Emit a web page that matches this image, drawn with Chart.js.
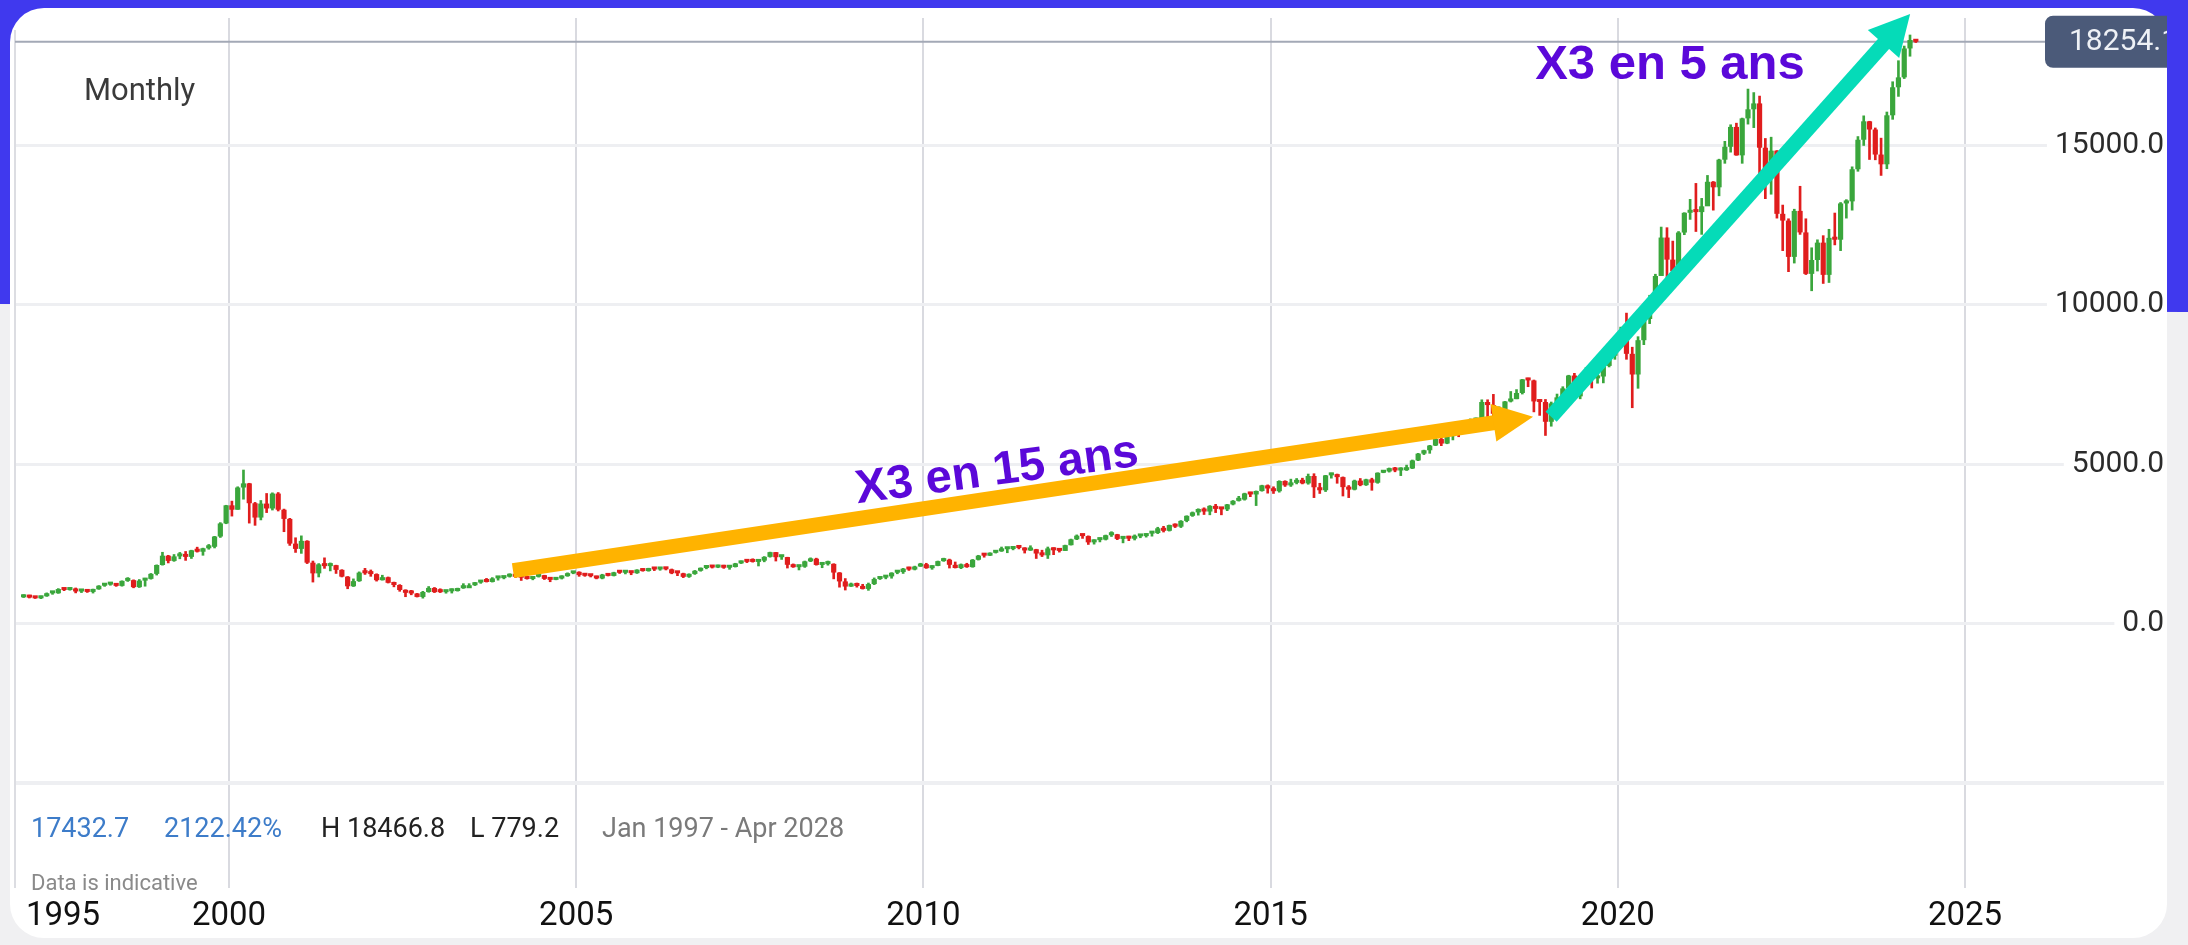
<!DOCTYPE html>
<html>
<head>
<meta charset="utf-8">
<title>Monthly</title>
<script src="https://cdn.jsdelivr.net/npm/chart.js@4.4.1/dist/chart.umd.min.js"></script>
<style>
  html, body { margin: 0; padding: 0; }
  body { width: 2188px; height: 945px; overflow: hidden; background: #f0f0f2; position: relative; }
  #band { position: absolute; left: 0; top: 0; width: 2188px; height: 312px; background: #4039ee;
          clip-path: polygon(0 0, 100% 0, 100% 312px, 0 304px); }
  #card { position: absolute; left: 10px; top: 8px; width: 2157px; height: 930px; background: #fff; border-radius: 34px; }
  #chart { position: absolute; left: 0; top: 0; }
</style>
</head>
<body>
<div id="band"></div>
<div id="card"></div>
<canvas id="chart" width="2188" height="945"></canvas>
<script>
// monthly candles, Jan 1997 .. Apr 2024 (open = previous close)
const firstYear = 1997;
const firstOpen = 821.36;

const monthlyClose = [
    877, 812, 790, 855, 946, 949, 1081, 1050, 1085, 1005, 1024, 990,            // 1997
    1074, 1185, 1220, 1250, 1180, 1337, 1360, 1140, 1345, 1400, 1557, 1836,     // 1998
    2128, 1964, 2106, 2152, 2090, 2296, 2252, 2360, 2407, 2729, 3140, 3708,     // 1999
    3570, 4267, 4397, 3774, 3324, 3763, 3609, 4077, 3570, 3282, 2506, 2341,     // 2000
    2593, 1908, 1573, 1855, 1800, 1830, 1683, 1470, 1168, 1329, 1596, 1577,     // 2001
    1550, 1359, 1452, 1277, 1208, 1051, 963, 942, 833, 989, 1116, 984,          // 2002
    983, 1009, 1018, 1106, 1201, 1201, 1284, 1342, 1303, 1415, 1424, 1468,      // 2003
    1494, 1466, 1438, 1396, 1466, 1517, 1401, 1369, 1412, 1485, 1573, 1621,     // 2004
    1519, 1497, 1483, 1413, 1534, 1493, 1605, 1592, 1601, 1579, 1689, 1645,     // 2005
    1710, 1695, 1703, 1700, 1576, 1575, 1464, 1555, 1654, 1740, 1792, 1756,     // 2006
    1790, 1749, 1772, 1886, 1959, 1934, 1932, 1972, 2091, 2239, 2080, 2084,     // 2007
    1842, 1767, 1781, 1950, 2033, 1837, 1863, 1872, 1598, 1321, 1159, 1212,     // 2008
    1176, 1085, 1237, 1395, 1438, 1478, 1593, 1614, 1720, 1692, 1788, 1860,     // 2009
    1736, 1806, 1957, 2003, 1842, 1741, 1858, 1769, 2000, 2130, 2128, 2218,     // 2010
    2265, 2330, 2338, 2405, 2370, 2291, 2330, 2195, 2139, 2356, 2297, 2278,     // 2011
    2458, 2641, 2756, 2743, 2546, 2616, 2632, 2770, 2799, 2655, 2677, 2661,     // 2012
    2732, 2743, 2819, 2838, 2987, 2909, 3088, 3038, 3219, 3379, 3487, 3592,     // 2013
    3513, 3691, 3596, 3581, 3737, 3849, 3889, 4082, 4049, 4158, 4335, 4236,     // 2014
    4151, 4472, 4334, 4414, 4508, 4397, 4628, 4275, 4181, 4648, 4665, 4593,     // 2015
    4279, 4201, 4483, 4341, 4523, 4417, 4730, 4771, 4875, 4801, 4810, 4864,     // 2016
    5117, 5330, 5436, 5584, 5788, 5647, 5880, 5988, 5979, 6248, 6367, 6397,     // 2017
    6950, 6854, 6581, 6605, 6967, 7040, 7233, 7660, 7627, 6968, 6949, 6330,     // 2018
    6907, 7096, 7378, 7781, 7128, 7671, 7848, 7692, 7750, 8083, 8403, 8733,     // 2019
    9151, 8462, 7813, 8890, 9555, 10156, 10905, 12111, 11418, 11053, 12268, 12888,      // 2020
    12925, 12909, 13091, 13861, 13687, 14554, 14959, 15582, 14690, 15850, 16135, 16320, // 2021
    14930, 14237, 14838, 12855, 12643, 11504, 12947, 12272, 10971, 11406, 11951, 10940, // 2022
    12101, 12043, 13181, 13246, 14254, 15180, 15758, 15501, 14715, 14409, 15947, 16826, // 2023
    17137, 18044, 18310, 18254.06                                                       // 2024
];

const monthlyHigh = [
    905, 890, 850, 862, 960, 985, 1095, 1100, 1110, 1115, 1050, 1065,
    1080, 1190, 1240, 1275, 1260, 1340, 1440, 1370, 1380, 1420, 1570, 1840,
    2235, 2140, 2165, 2230, 2260, 2300, 2395, 2365, 2480, 2735, 3165, 3710,
    3840, 4290, 4816, 4400, 3800, 3860, 4080, 4100, 4110, 3590, 3300, 2690,
    2750, 2600, 1960, 1880, 2060, 1900, 1830, 1690, 1475, 1400, 1620, 1730,
    1680, 1560, 1515, 1460, 1300, 1220, 1060, 1040, 945, 1010, 1160, 1130,
    1090, 1030, 1090, 1110, 1250, 1250, 1290, 1345, 1415, 1440, 1450, 1470,
    1560, 1520, 1475, 1480, 1480, 1520, 1515, 1405, 1445, 1500, 1590, 1630,
    1625, 1540, 1510, 1490, 1545, 1565, 1610, 1625, 1615, 1610, 1690, 1720,
    1735, 1720, 1720, 1740, 1710, 1590, 1580, 1560, 1665, 1745, 1820, 1820,
    1835, 1830, 1795, 1890, 1965, 1990, 2030, 1980, 2100, 2240, 2230, 2135,
    2080, 1870, 1800, 1960, 2060, 2050, 1900, 1960, 1875, 1600, 1410, 1270,
    1270, 1230, 1270, 1430, 1460, 1510, 1595, 1640, 1730, 1770, 1800, 1890,
    1890, 1815, 1960, 2050, 2020, 1930, 1870, 1890, 2010, 2140, 2180, 2220,
    2290, 2400, 2370, 2410, 2430, 2380, 2440, 2330, 2300, 2400, 2380, 2340,
    2460, 2650, 2780, 2790, 2750, 2630, 2680, 2775, 2880, 2800, 2690, 2740,
    2780, 2790, 2820, 2850, 3020, 3050, 3090, 3130, 3230, 3380, 3500, 3600,
    3630, 3700, 3740, 3610, 3740, 3860, 3990, 4090, 4120, 4160, 4340, 4350,
    4290, 4480, 4480, 4530, 4550, 4560, 4690, 4700, 4400, 4650, 4720, 4690,
    4600, 4330, 4500, 4550, 4530, 4560, 4730, 4800, 4880, 4900, 4890, 4970,
    5130, 5340, 5440, 5590, 5830, 5900, 5940, 6000, 6010, 6250, 6420, 6450,
    7020, 7020, 7190, 6800, 6970, 7280, 7340, 7660, 7700, 7640, 7020, 7030,
    6950, 7200, 7430, 7790, 7850, 7700, 8030, 7860, 7920, 8090, 8410, 8740,
    9300, 9740, 8670, 9000, 9620, 10300, 10960, 12440, 12420, 12000, 12300, 12890,
    13310, 13810, 13340, 14060, 13870, 14570, 15130, 15650, 15700, 15860, 16770, 16660,
    16550, 15220, 15260, 14840, 13130, 12700, 13000, 13720, 12700, 11790, 12040, 12170,
    12370, 12880, 13210, 13300, 14330, 15280, 15930, 15760, 15550, 15230, 16050, 17000,
    17660, 18120, 18466.8, 18330
];

const monthlyLow = [
    815, 800, 785, 779.2, 850, 915, 945, 1030, 1045, 960, 970, 975,
    955, 1070, 1165, 1200, 1165, 1170, 1320, 1120, 1130, 1170, 1390, 1520,
    1830, 1900, 1950, 2030, 1980, 2040, 2240, 2140, 2330, 2370, 2700, 3130,
    3370, 3580, 3900, 3150, 3080, 3250, 3480, 3560, 3530, 2880, 2450, 2230,
    2200, 1880, 1300, 1460, 1730, 1650, 1570, 1460, 1090, 1160, 1320, 1540,
    1480, 1330, 1360, 1270, 1150, 1010, 840, 900, 830, 795, 980, 970,
    970, 950, 955, 1015, 1100, 1170, 1190, 1260, 1300, 1300, 1360, 1400,
    1455, 1440, 1350, 1390, 1370, 1455, 1380, 1310, 1370, 1395, 1480, 1560,
    1480, 1480, 1460, 1400, 1400, 1490, 1490, 1570, 1555, 1530, 1570, 1640,
    1640, 1660, 1670, 1680, 1560, 1500, 1440, 1445, 1540, 1640, 1715, 1740,
    1750, 1730, 1700, 1770, 1880, 1910, 1925, 1805, 1935, 2080, 1960, 2010,
    1740, 1760, 1680, 1760, 1940, 1830, 1750, 1830, 1400, 1140, 1050, 1160,
    1140, 1080, 1040, 1220, 1380, 1400, 1420, 1560, 1570, 1665, 1680, 1790,
    1730, 1700, 1810, 1950, 1740, 1740, 1720, 1760, 1765, 1990, 2080, 2130,
    2210, 2260, 2220, 2310, 2340, 2210, 2290, 2040, 2100, 2040, 2160, 2240,
    2290, 2460, 2630, 2670, 2480, 2490, 2560, 2620, 2730, 2630, 2530, 2600,
    2620, 2690, 2710, 2740, 2820, 2870, 2900, 3010, 3010, 3190, 3360, 3400,
    3420, 3410, 3480, 3410, 3540, 3720, 3840, 3870, 3980, 3700, 4150, 4090,
    4080, 4120, 4300, 4300, 4380, 4380, 4370, 3950, 4080, 4140, 4560, 4400,
    4000, 3950, 4190, 4320, 4330, 4180, 4400, 4730, 4750, 4760, 4640, 4800,
    4860, 5110, 5300, 5340, 5580, 5580, 5640, 5760, 5860, 5980, 6180, 6280,
    6400, 6170, 6310, 6310, 6590, 6950, 7050, 7200, 7430, 6640, 6530, 5900,
    6190, 6890, 6980, 7390, 7100, 7050, 7630, 7390, 7540, 7550, 8050, 8290,
    8690, 8290, 6770, 7380, 8750, 9410, 10180, 10960, 10680, 11000, 11150, 12200,
    12680, 12300, 12210, 13120, 12970, 13420, 14440, 14790, 14690, 14440, 15670, 15560,
    13720, 13330, 13470, 12720, 11700, 11040, 11310, 12210, 10950, 10440, 11060, 10670,
    10700, 11880, 11700, 12720, 12970, 14190, 15000, 14560, 14550, 14060, 14270, 15820,
    16540, 17100, 17800, 18230
];

const yearTicks = [2000, 2005, 2010, 2015, 2020, 2025];
const edgeYearLabel = '1995';
const priceTicks = [-5000, 0, 5000, 10000, 15000];
const periodLabel = 'Monthly';
const statsLabels = ['17432.7', '2122.42%', 'H 18466.8', 'L 779.2', 'Jan 1997 - Apr 2028'];
const noteLabel = 'Data is indicative';

// annotations, in (year, value) coordinates
const arrow15 = { from: [2004.09, 1660], to: [2018.78, 6487] };
const arrow5 = { from: [2019.04, 6487], to: [2024.21, 19122] };
const label15 = { text: 'X3 en 15 ans', at: [2011.06, 4765] };
const label5 = { text: 'X3 en 5 ans', at: [2018.81, 17093] };

const UP = '#3aa63c';
const DOWN = '#e01d1d';

const bodies = [];
const wicks = [];
let open = firstOpen;
monthlyClose.forEach((close, i) => {
    const x = firstYear + (i + 0.5) / 12;
    const up = close >= open;
    bodies.push({ x: x, y: [open, close], up: up });
    wicks.push({ x: x, y: [monthlyLow[i], monthlyHigh[i]], up: up });
    open = close;
});
const lastClose = monthlyClose[monthlyClose.length - 1];

function drawArrow(ctx, x1, y1, x2, y2, width, headLen, headHalf, color) {
    const a = Math.atan2(y2 - y1, x2 - x1);
    const bx = x2 - headLen * Math.cos(a);
    const by = y2 - headLen * Math.sin(a);
    ctx.save();
    ctx.strokeStyle = color;
    ctx.lineWidth = width;
    ctx.beginPath();
    ctx.moveTo(x1, y1);
    ctx.lineTo(bx + Math.cos(a), by + Math.sin(a));
    ctx.stroke();
    ctx.fillStyle = color;
    ctx.beginPath();
    ctx.moveTo(x2, y2);
    ctx.lineTo(bx + headHalf * Math.sin(a), by - headHalf * Math.cos(a));
    ctx.lineTo(bx - headHalf * Math.sin(a), by + headHalf * Math.cos(a));
    ctx.closePath();
    ctx.fill();
    ctx.restore();
}

const decorations = {
    id: 'decorations',
    beforeDatasetsDraw(chart) {
        const { ctx, chartArea, scales } = chart;
        ctx.save();
        // left border of the plot
        ctx.strokeStyle = '#dcdde2';
        ctx.lineWidth = 2;
        ctx.beginPath();
        ctx.moveTo(chartArea.left, 30);
        ctx.lineTo(chartArea.left, chartArea.bottom);
        ctx.stroke();
        // last price line
        const py = scales.y.getPixelForValue(lastClose);
        ctx.strokeStyle = '#a3a9b6';
        ctx.beginPath();
        ctx.moveTo(chartArea.left, py);
        ctx.lineTo(chartArea.right, py);
        ctx.stroke();
        ctx.restore();
    },
    afterDatasetsDraw(chart) {
        const { ctx, scales } = chart;
        const px = p => [scales.x.getPixelForValue(p[0]), scales.y.getPixelForValue(p[1])];
        let a = px(arrow15.from), b = px(arrow15.to);
        drawArrow(ctx, a[0], a[1], b[0], b[1], 15, 40, 19, '#ffb300');
        a = px(arrow5.from); b = px(arrow5.to);
        drawArrow(ctx, a[0], a[1], b[0], b[1], 15, 40, 21, '#05dbb8');

        ctx.save();
        ctx.fillStyle = '#5b08d9';
        ctx.font = 'bold 47px "Liberation Sans", Arial, sans-serif';
        const c = px(label15.at);
        ctx.translate(c[0], c[1]);
        ctx.rotate(-7.6 * Math.PI / 180);
        ctx.textAlign = 'center';
        ctx.textBaseline = 'middle';
        ctx.fillText(label15.text, 0, 0);
        ctx.restore();

        ctx.save();
        ctx.fillStyle = '#5b08d9';
        ctx.font = 'bold 49px "Liberation Sans", Arial, sans-serif';
        const d = px(label5.at);
        ctx.textAlign = 'left';
        ctx.textBaseline = 'alphabetic';
        ctx.fillText(label5.text, d[0], d[1]);
        ctx.restore();
    },
    afterDraw(chart) {
        const { ctx, scales, chartArea } = chart;
        ctx.save();
        // period label
        ctx.fillStyle = '#3a3a3a';
        ctx.font = '31px Roboto, sans-serif';
        ctx.textBaseline = 'alphabetic';
        ctx.fillText(periodLabel, 84, 100);

        // stats row
        const statsX = [31, 164, 321, 470, 602];
        const statsColor = ['#3d7cc9', '#3d7cc9', '#222222', '#222222', '#7a7a7a'];
        ctx.font = '27px Roboto, sans-serif';
        ctx.textBaseline = 'middle';
        statsLabels.forEach((t, i) => {
            ctx.fillStyle = statsColor[i];
            ctx.fillText(t, statsX[i], 830);
        });
        ctx.fillStyle = '#8a8a8a';
        ctx.font = '22px Roboto, sans-serif';
        ctx.fillText(noteLabel, 31, 884);

        // clipped year label at the left edge
        ctx.fillStyle = '#111';
        ctx.font = '33px Roboto, sans-serif';
        ctx.textAlign = 'center';
        ctx.fillText(edgeYearLabel, 63, chartArea.bottom + 12 + 16.5);

        // last price box
        const py = scales.y.getPixelForValue(lastClose);
        ctx.beginPath();
        ctx.rect(0, 0, 2167, 945);
        ctx.clip();
        ctx.fillStyle = '#4b5a79';
        ctx.beginPath();
        ctx.roundRect(2045, py - 26, 140, 52, 8);
        ctx.fill();
        ctx.fillStyle = '#eef1f6';
        ctx.font = '30px Roboto, sans-serif';
        ctx.textAlign = 'left';
        ctx.textBaseline = 'middle';
        ctx.fillText(lastClose.toFixed(1), 2069, py + 1);
        ctx.restore();
    }
};

new Chart(document.getElementById('chart'), {
    type: 'bar',
    data: {
        datasets: [
            {
                data: bodies,
                order: 1,
                grouped: false,
                barPercentage: 0.9,
                categoryPercentage: 1,
                minBarLength: 3,
                backgroundColor: ctx => (ctx.raw && ctx.raw.up ? UP : DOWN),
                borderWidth: 0
            },
            {
                data: wicks,
                order: 2,
                grouped: false,
                barThickness: 2,
                backgroundColor: ctx => (ctx.raw && ctx.raw.up ? UP : DOWN),
                borderWidth: 0
            }
        ]
    },
    options: {
        responsive: false,
        animation: false,
        devicePixelRatio: 1,
        events: [],
        layout: { padding: { left: 15, right: 24, top: 12, bottom: 0 } },
        plugins: { legend: { display: false }, tooltip: { enabled: false } },
        scales: {
            x: {
                type: 'linear',
                offset: false,
                min: 1996.918,
                max: 2027.866,
                afterBuildTicks: scale => { scale.ticks = yearTicks.map(v => ({ value: v })); },
                grid: { offset: false, color: '#d9dae0', lineWidth: 2, drawTicks: false },
                border: { display: false },
                ticks: {
                    padding: 12,
                    autoSkip: false,
                    maxRotation: 0,
                    color: '#111',
                    font: { family: 'Roboto', size: 33, lineHeight: 1 },
                    callback: v => String(v)
                }
            },
            y: {
                position: 'right',
                min: -8300,
                max: 19000,
                afterBuildTicks: scale => { scale.ticks = priceTicks.map(v => ({ value: v })); },
                grid: {
                    color: '#eeeff2',
                    lineWidth: ctx => (ctx.tick && ctx.tick.value < 0 ? 4 : 3),
                    drawTicks: false
                },
                border: { display: false },
                ticks: {
                    mirror: true,
                    padding: 0,
                    color: '#2b2b2b',
                    font: { family: 'Roboto', size: 30 },
                    callback: v => (v < 0 ? '' : v.toFixed(1)),
                    showLabelBackdrop: true,
                    backdropColor: ctx => (ctx.tick && ctx.tick.value < 0 ? 'rgba(0,0,0,0)' : '#ffffff'),
                    backdropPadding: { left: 8, right: 2, top: 2, bottom: 2 }
                }
            }
        }
    },
    plugins: [decorations]
});
</script>
</body>
</html>
